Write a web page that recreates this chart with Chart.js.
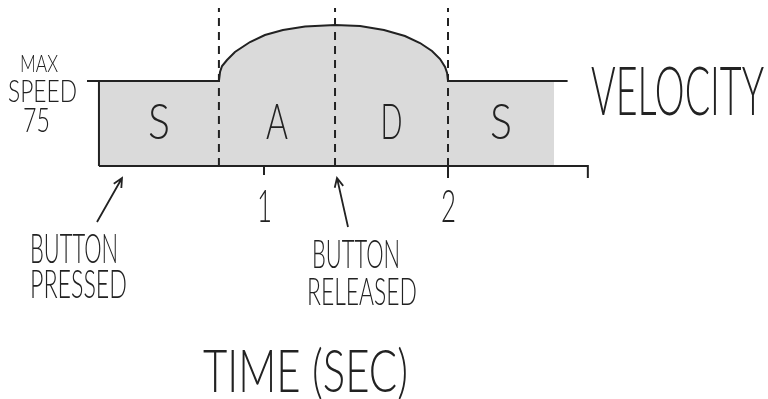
<!DOCTYPE html>
<html>
<head>
<meta charset="utf-8">
<script src="https://cdn.jsdelivr.net/npm/chart.js@4/dist/chart.umd.min.js"></script>
<style>
  html, body { margin: 0; padding: 0; background: #fff; }
  canvas { display: block; }
</style>
</head>
<body>
<canvas id="sadsChart" width="768" height="399"></canvas>
<script>
// SADS velocity envelope
const maxSpeed = 75;
const timeTicks = [1, 2];
const phaseLabels = ['S', 'A', 'D', 'S'];
const phaseBounds = [0.103, 0.755, 1.386, 2.0, 2.576]; // seconds
const dashedTimes = [0.755, 1.386, 2.0];
const axisEnd = 2.76;
const lineStart = 0.038;
const lineEnd = 2.65;
const dashTop = 139.4;

// attack / decay bump
const curveTime  = [0.755, 0.761, 0.772, 0.799, 0.842, 0.924, 1.005, 1.103, 1.223, 1.386,
                    1.522, 1.652, 1.766, 1.848, 1.913, 1.957, 1.984, 1.995, 2.0];
const curveSpeed = [75.0, 82.9, 88.2, 93.5, 100.6, 109.4, 115.6, 120.0, 123.1, 124.4,
                    123.5, 120.0, 114.7, 108.5, 101.5, 94.4, 87.4, 82.1, 75.0];

const INK = '#222';
const FILL = '#dadada';
const FONT = "Lato, 'Liberation Sans Narrow', sans-serif";

const curvePts = curveTime.map((t, i) => ({ x: t, y: curveSpeed[i] }));

const fillPts = [
  { x: phaseBounds[0], y: 0 },
  { x: phaseBounds[0], y: maxSpeed },
  ...curvePts,
  { x: phaseBounds[4], y: maxSpeed },
  { x: phaseBounds[4], y: 0 }
];

const outlinePts = [
  { x: lineStart, y: maxSpeed },
  ...curvePts,
  { x: lineEnd, y: maxSpeed }
];

function seg(pts) {
  return {
    data: pts,
    borderColor: INK,
    borderWidth: 2,
    pointRadius: 0,
    fill: false,
    tension: 0,
    order: 1
  };
}

const datasets = [
  {
    data: fillPts,
    borderWidth: 0,
    backgroundColor: FILL,
    pointRadius: 0,
    fill: 'origin',
    tension: 0,
    order: 10
  },
  seg(outlinePts),
  seg([{ x: phaseBounds[0], y: maxSpeed }, { x: phaseBounds[0], y: 0 }]),
  seg([{ x: phaseBounds[0], y: 0 }, { x: axisEnd, y: 0 }, { x: axisEnd, y: -10.6 }]),
  ...timeTicks.map(t => seg([{ x: t, y: 0 }, { x: t, y: t === 2 ? -10.6 : -8 }])),
  ...dashedTimes.map(t => Object.assign(seg([{ x: t, y: 0 }, { x: t, y: dashTop }]), { borderDash: [8, 6] }))
];

// squeeze a label into a box (hand lettering is tall and narrow)
function fitText(ctx, text, left, top, right, bottom) {
  const size = (bottom - top) / 0.72;
  ctx.font = `300 ${size}px ${FONT}`;
  const w = ctx.measureText(text).width;
  ctx.save();
  ctx.translate(left, bottom);
  ctx.scale((right - left) / w, 1);
  ctx.textBaseline = 'alphabetic';
  ctx.fillText(text, 0, 0);
  ctx.restore();
}

function arrow(ctx, x1, y1, x2, y2) {
  const a = Math.atan2(y2 - y1, x2 - x1);
  const h = 10;
  ctx.beginPath();
  ctx.moveTo(x1, y1);
  ctx.lineTo(x2, y2);
  ctx.moveTo(x2 - h * Math.cos(a - 0.45), y2 - h * Math.sin(a - 0.45));
  ctx.lineTo(x2, y2);
  ctx.lineTo(x2 - h * Math.cos(a + 0.45), y2 - h * Math.sin(a + 0.45));
  ctx.stroke();
}

const labelsPlugin = {
  id: 'sadsLabels',
  afterDatasetsDraw(chart) {
    const { ctx, scales: { x, y } } = chart;
    ctx.save();
    ctx.fillStyle = INK;
    ctx.strokeStyle = INK;
    ctx.lineWidth = 1.8;

    // phase letters, centred in each span
    const letterTop = 103, letterBot = 139;
    phaseLabels.forEach((p, i) => {
      const cx = x.getPixelForValue((phaseBounds[i] + phaseBounds[i + 1]) / 2);
      const hw = p === 'A' ? 11 : 11;
      fitText(ctx, p, cx - hw, letterTop, cx + hw, letterBot);
    });

    // time tick numbers
    timeTicks.forEach(t => {
      const cx = x.getPixelForValue(t);
      fitText(ctx, String(t), cx - 7, 190, cx + 8, 222);
    });

    // max speed label
    const ms = y.getPixelForValue(maxSpeed);
    fitText(ctx, 'MAX', 20, ms - 26, 58, ms - 9);
    fitText(ctx, 'SPEED', 8, ms - 2, 77, ms + 21);
    fitText(ctx, String(maxSpeed), 23, ms + 27, 50, ms + 51);

    fitText(ctx, 'VELOCITY', 591, 67, 764, 115);

    fitText(ctx, 'BUTTON', 30, 233, 118, 263);
    fitText(ctx, 'PRESSED', 30, 270, 127, 298);
    fitText(ctx, 'BUTTON', 312, 240, 400, 268);
    fitText(ctx, 'RELEASED', 307, 278, 417, 305);

    fitText(ctx, 'TIME (SEC)', 203, 350, 408, 392);

    arrow(ctx, 97, 222, 122, 178);
    arrow(ctx, 348, 227, 337, 178);
    ctx.restore();
  }
};

new Chart(document.getElementById('sadsChart'), {
  type: 'line',
  data: { datasets },
  options: {
    responsive: false,
    animation: false,
    layout: { padding: 0 },
    plugins: { legend: { display: false }, tooltip: { enabled: false } },
    scales: {
      x: { type: 'linear', min: -0.4348, max: 3.7391, display: false },
      y: { min: -205.6, max: 146.47, display: false }
    }
  },
  plugins: [labelsPlugin]
});
</script>
</body>
</html>
